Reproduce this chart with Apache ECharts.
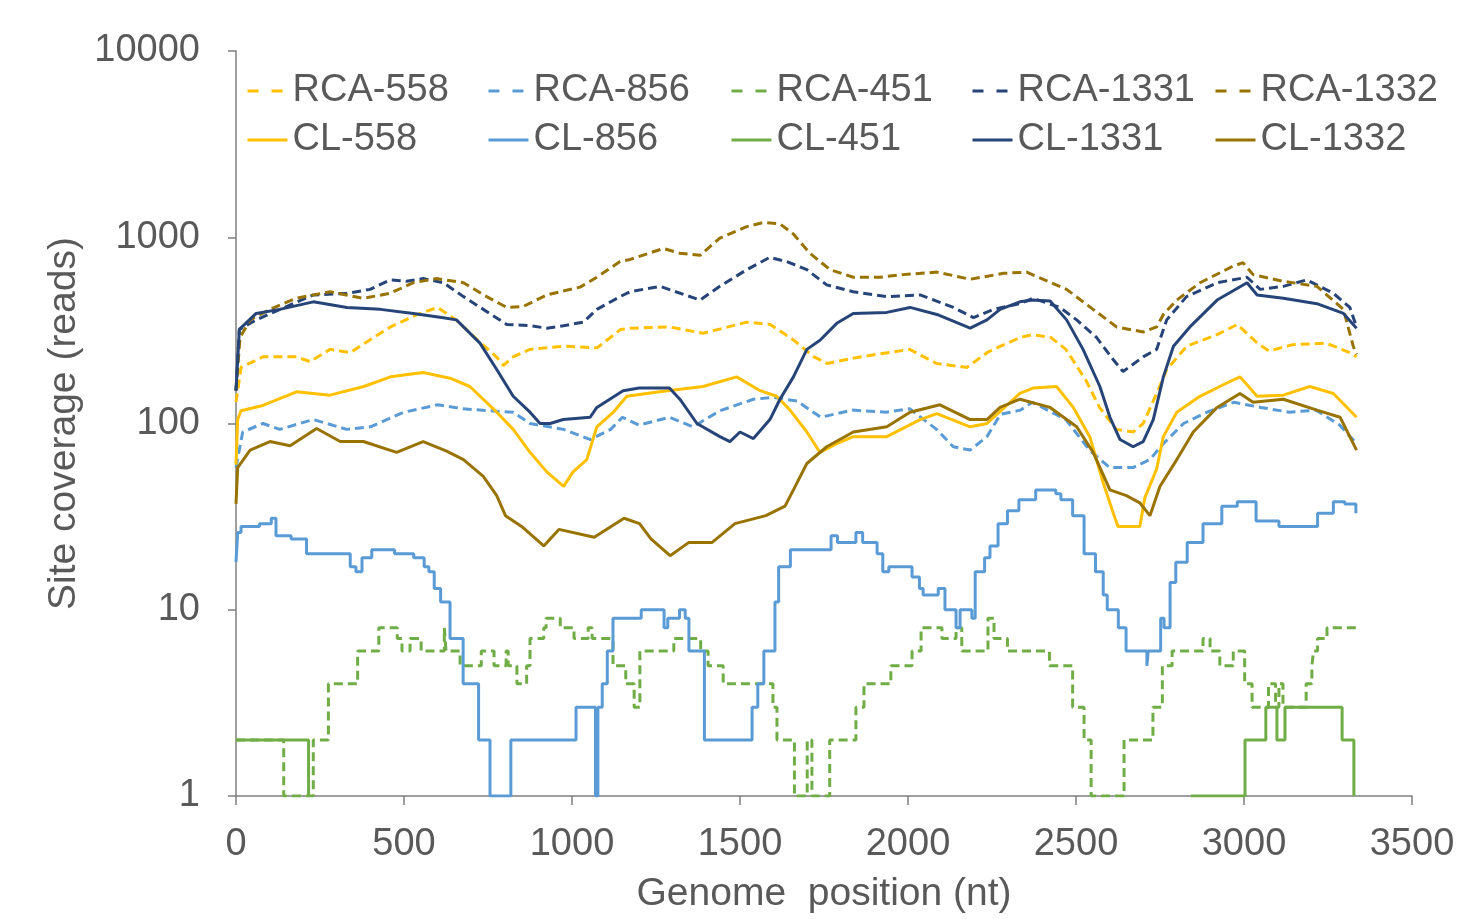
<!DOCTYPE html>
<html>
<head>
<meta charset="utf-8">
<script src="https://cdn.jsdelivr.net/npm/echarts@6/dist/echarts.min.js"></script>
<style>
html,body{margin:0;padding:0;background:#fff;}
#chart{width:1463px;height:919px;}
</style>
</head>
<body>
<div id="chart"></div>
<script>
// ---- data: [genome position (nt), site coverage (reads)] ----
const seriesNames = ['RCA-558','RCA-856','RCA-451','RCA-1331','RCA-1332','CL-558','CL-856','CL-451','CL-1331','CL-1332'];
const yTicks = [1, 10, 100, 1000, 10000];
const xTicks = [0, 500, 1000, 1500, 2000, 2500, 3000, 3500];

const rca558 = [[0,130],[15,200],[80,228],[180,228],[220,215],[280,250],[340,240],[410,290],[460,330],[540,385],[600,420],[655,360],[715,285],[775,228],[796,205],[825,228],[875,250],[975,260],[1075,255],[1145,320],[1175,325],[1290,330],[1390,305],[1520,350],[1590,340],[1660,280],[1720,228],[1760,210],[1840,225],[1940,240],[2005,250],[2085,210],[2175,200],[2235,240],[2275,260],[2335,290],[2370,300],[2425,290],[2470,250],[2530,170],[2570,122],[2620,93],[2670,90],[2700,100],[2740,145],[2770,195],[2830,260],[2920,300],[2980,340],[3040,270],[3075,245],[3145,265],[3245,270],[3315,240],[3335,228]];
const rca856 = [[0,58],[20,90],[80,100],[130,93],[230,105],[330,93],[400,96],[500,115],[600,126],[675,120],[755,117],[825,115],[875,100],[975,93],[1055,82],[1115,93],[1150,108],[1200,98],[1290,108],[1360,96],[1440,117],[1540,135],[1600,138],[1670,132],[1740,108],[1835,118],[1935,115],[2005,120],[2085,93],[2135,75],[2185,72],[2235,85],[2275,112],[2335,118],[2370,130],[2470,105],[2540,72],[2600,58],[2670,58],[2720,64],[2760,78],[2820,100],[2890,115],[2970,130],[3050,122],[3135,115],[3215,118],[3285,98],[3335,78]];
const rca451 = [[0,2],[142,1],[230,2],[275,4],[362,6],[425,8],[480,7],[494,6],[518,7],[551,6],[620,8],[625,6],[667,5],[730,6],[768,5],[804,6],[810,5],[836,4],[865,5],[875,7],[916,8],[923,9],[965,8],[1006,7],[1048,8],[1060,7],[1122,5],[1160,4],[1185,3],[1202,6],[1303,7],[1383,6],[1405,5],[1450,4],[1598,3],[1610,2],[1662,1],[1700,2],[1714,1],[1767,2],[1845,3],[1869,4],[1949,5],[2012,6],[2039,8],[2101,7],[2143,8],[2160,6],[2238,9],[2256,7],[2296,6],[2421,5],[2490,3],[2524,2],[2545,1],[2643,2],[2729,3],[2757,5],[2786,6],[2878,7],[2899,6],[2928,5],[2968,6],[3002,4],[3024,3],[3073,4],[3094,3],[3104,4],[3116,3],[3185,4],[3202,5],[3207,6],[3219,7],[3247,8],[3335,8]];
const rca1331 = [[0,150],[10,320],[60,360],[131,410],[230,490],[330,500],[399,525],[458,590],[508,580],[557,600],[617,570],[677,480],[736,410],[806,340],[875,335],[925,325],[974,335],[1034,350],[1074,410],[1143,480],[1173,510],[1262,545],[1381,460],[1440,545],[1520,670],[1589,780],[1639,740],[1699,670],[1758,555],[1837,510],[1937,480],[2036,490],[2135,420],[2195,370],[2254,410],[2333,440],[2372,470],[2452,420],[2502,360],[2561,290],[2611,220],[2640,190],[2700,228],[2740,250],[2770,360],[2829,480],[2920,570],[3009,610],[3048,525],[3117,545],[3187,590],[3266,500],[3315,420],[3335,330]];
const rca1332 = [[0,150],[12,290],[42,360],[101,410],[179,470],[280,510],[379,470],[458,500],[528,570],[597,600],[677,570],[746,480],[806,420],[855,425],[925,490],[1024,540],[1074,610],[1143,740],[1173,760],[1272,870],[1321,820],[1381,800],[1440,990],[1520,1140],[1569,1200],[1619,1180],[1659,1040],[1708,820],[1768,670],[1837,610],[1917,610],[1985,630],[2086,650],[2185,595],[2284,640],[2353,650],[2472,525],[2551,410],[2621,330],[2700,310],[2740,330],[2760,385],[2800,460],[2869,570],[2968,700],[2997,730],[3027,630],[3117,580],[3217,545],[3296,410],[3325,260],[3335,235]];
const cl558 = [[0,60],[5,105],[15,117],[80,125],[180,148],[280,142],[380,158],[460,178],[557,188],[637,175],[696,158],[776,115],[825,93],[875,70],[925,55],[975,46],[1003,55],[1044,64],[1074,96],[1123,115],[1163,140],[1260,148],[1390,158],[1490,178],[1560,150],[1609,140],[1649,118],[1699,90],[1738,70],[1788,78],[1837,85],[1937,85],[2036,105],[2086,113],[2185,96],[2235,100],[2333,145],[2372,155],[2442,158],[2492,122],[2541,85],[2581,48],[2611,33],[2625,28],[2690,28],[2705,40],[2740,57],[2760,85],[2800,115],[2869,140],[2949,165],[2988,178],[3039,140],[3117,142],[3196,158],[3266,145],[3335,108]];
const cl856 = [[0,18],[5,26],[15,28],[70,29],[105,31],[119,25],[164,24],[210,20],[289,20],[340,17],[357,16],[375,19],[404,21],[472,20],[529,19],[560,17],[574,16],[590,13],[609,11],[637,7],[676,4],[722,2],[756,1],[818,2],[1012,3],[1070,1],[1077,3],[1090,4],[1105,6],[1122,9],[1206,10],[1274,8],[1285,9],[1320,10],[1337,9],[1348,6],[1394,2],[1536,3],[1553,4],[1571,6],[1604,11],[1615,17],[1650,21],[1771,25],[1790,23],[1845,26],[1865,23],[1908,20],[1925,16],[1943,17],[2012,15],[2034,13],[2045,12],[2090,13],[2110,10],[2143,8],[2155,10],[2190,9],[2200,16],[2228,19],[2244,22],[2268,29],[2296,34],[2330,39],[2380,44],[2440,42],[2455,39],[2490,32],[2524,20],[2558,16],[2581,12],[2593,10],[2626,8],[2649,6],[2711,5],[2715,6],[2752,9],[2762,8],[2780,14],[2797,18],[2831,23],[2878,29],[2934,36],[2980,38],[3002,38],[3036,30],[3082,30],[3104,28],[3161,28],[3219,33],[3266,38],[3300,37],[3333,33]];
const cl451 = [[0,2],[216,1],[217,null],[2842,1],[3003,2],[3065,3],[3098,2],[3122,3],[3292,2],[3327,1]];
const cl1331 = [[0,150],[10,320],[60,390],[130,410],[230,450],[330,420],[430,410],[528,390],[617,370],[656,360],[726,270],[776,195],[825,140],[875,115],[905,100],[935,100],[974,105],[1054,108],[1074,122],[1152,150],[1200,155],[1290,155],[1321,135],[1372,100],[1440,85],[1470,80],[1500,90],[1540,83],[1589,105],[1619,135],[1659,178],[1699,250],[1738,280],[1788,345],[1837,390],[1937,395],[2006,420],[2086,385],[2185,325],[2235,360],[2274,410],[2333,450],[2372,460],[2423,455],[2472,360],[2521,250],[2571,158],[2601,108],[2631,82],[2670,75],[2700,80],[2730,105],[2760,178],[2790,260],[2839,330],[2920,460],[3009,570],[3039,490],[3117,470],[3217,440],[3296,390],[3335,325]];
const cl1332 = [[0,37],[5,58],[42,72],[101,80],[161,76],[240,94],[310,80],[379,80],[478,70],[557,80],[627,71],[677,64],[736,52],[776,41],[802,32],[850,28],[916,22],[961,27],[1066,24.5],[1155,31],[1201,29],[1235,24],[1292,19.5],[1348,23],[1417,23],[1485,29],[1577,32],[1634,36],[1659,44],[1699,61],[1758,75],[1837,90],[1937,96],[2006,115],[2095,126],[2185,105],[2235,105],[2274,122],[2333,135],[2423,122],[2502,96],[2551,70],[2601,44],[2650,41],[2690,37.5],[2720,32],[2750,46],[2800,64],[2849,90],[2920,122],[2988,145],[3027,130],[3117,135],[3217,118],[3286,108],[3335,72]];

// ---- styling ----
const FONT = '"Liberation Sans", Arial, sans-serif';
const TXT = '#595959';
const AX = '#7f7f7f';
const colors = {558:'#FFC000', 856:'#5B9BD5', 451:'#70AD47', 1331:'#264478', 1332:'#997300'};
const seriesData = [rca558, rca856, rca451, rca1331, rca1332, cl558, cl856, cl451, cl1331, cl1332];
const stepped = {'RCA-451':true, 'CL-856':true, 'CL-451':true};

const series = seriesNames.map((name, i) => {
  const key = name.split('-')[1];
  const dashed = name.startsWith('RCA');
  return {
    name: name,
    type: 'line',
    data: seriesData[i],
    showSymbol: false,
    symbol: 'none',
    step: stepped[name] ? 'end' : false,
    connectNulls: false,
    lineStyle: {color: colors[key], width: 3, type: dashed ? [9, 5] : 'solid'},
    itemStyle: {color: colors[key]},
    z: dashed ? 2 : 3
  };
});

const legendCols = [246, 487, 730, 971, 1214];
const legendRows = [72, 121];
const legends = seriesNames.map((name, i) => ({
  data: [name],
  left: legendCols[i % 5],
  top: legendRows[Math.floor(i / 5)],
  padding: 0,
  itemWidth: 40,
  itemHeight: 14,
  selectedMode: false,
  itemStyle: {opacity: 0},
  lineStyle: {width: 3, type: name.startsWith('RCA') ? [11, 13] : 'solid'},
  textStyle: {fontFamily: FONT, fontSize: 38, color: TXT, lineHeight: 38}
}));

const chart = echarts.init(document.getElementById('chart'), null, {renderer: 'canvas'});
chart.setOption({
  animation: false,
  backgroundColor: '#fff',
  grid: {left: 236, right: 51, top: 51, bottom: 122, containLabel: false},
  legend: legends,
  xAxis: {
    type: 'value', min: xTicks[0], max: xTicks[xTicks.length - 1], interval: 500,
    name: 'Genome  position (nt)', nameLocation: 'middle', nameGap: 79,
    nameTextStyle: {fontFamily: FONT, fontSize: 39, color: TXT},
    axisLine: {show: true, lineStyle: {color: AX, width: 1.5}},
    axisTick: {show: true, length: 9, lineStyle: {color: AX, width: 1.5}},
    axisLabel: {fontFamily: FONT, fontSize: 38, color: TXT, margin: 30, lineHeight: 38,
      formatter: v => String(v)},
    splitLine: {show: false}
  },
  yAxis: {
    type: 'log', logBase: 10, min: yTicks[0], max: yTicks[yTicks.length - 1],
    name: 'Site coverage (reads)', nameLocation: 'middle', nameGap: 134,
    nameTextStyle: {fontFamily: FONT, fontSize: 39, color: TXT},
    axisLine: {show: true, lineStyle: {color: AX, width: 1.5}},
    axisTick: {show: true, length: 8, lineStyle: {color: AX, width: 1.5}},
    minorTick: {show: false},
    axisLabel: {fontFamily: FONT, fontSize: 38, color: TXT, margin: 36,
      formatter: v => String(Math.round(v))},
    splitLine: {show: false}
  },
  series: series
});
</script>
</body>
</html>
